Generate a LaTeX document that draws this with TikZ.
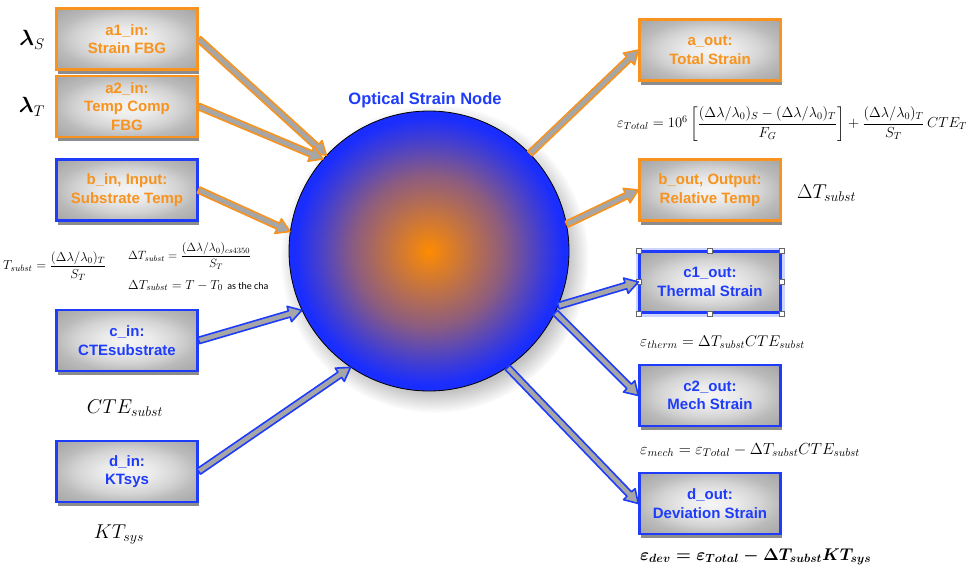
\RequirePackage{fix-cm}
\documentclass[tikz,border=0pt]{standalone}
\usepackage{amsmath}
\usepackage{fontspec}
\newfontfamily\boxfont{Liberation Sans}
\newfontfamily\calfont{Carlito}
\usetikzlibrary{calc,shadows}

\definecolor{myorange}{RGB}{247,147,30}
\definecolor{myblue}{RGB}{30,60,250}
\definecolor{ballorange}{RGB}{255,140,0}
\definecolor{ballblue}{RGB}{25,45,255}
\colorlet{ballmidA}{ballorange!88!ballblue}
\colorlet{ballmidB}{ballorange!50!ballblue}
\colorlet{ballmidC}{ballorange!18!ballblue}

\pgfdeclareradialshading{boxshade}{\pgfpoint{0bp}{0bp}}{color(0bp)=(black!4); color(9bp)=(black!8); color(18bp)=(black!17); color(25bp)=(black!27); color(36bp)=(black!36); color(50bp)=(black!36)}
\pgfdeclareradialshading{ballshade}{\pgfpoint{0bp}{0bp}}{color(0bp)=(ballorange); color(3bp)=(ballmidA); color(13.5bp)=(ballmidB); color(20bp)=(ballmidC); color(24bp)=(ballblue); color(50bp)=(ballblue)}

\newcommand{\hollowarrow}[4]{%
  \coordinate (#4-h) at ($(#3)!13pt!(#2)$);
  \draw[#1] ($(#2)!3.2pt!90:(#3)$) -- ($(#4-h)!3.2pt!90:(#3)$) -- ($(#4-h)!8pt!90:(#3)$) -- (#3)
    -- ($(#4-h)!8pt!-90:(#3)$) -- ($(#4-h)!3.2pt!-90:(#3)$) -- ($(#2)!3.2pt!-90:(#3)$) -- cycle;}

\tikzset{
  iobox/.style={rectangle, minimum width=141pt, minimum height=61pt, inner sep=1pt,
    line width=2.4pt, shading=boxshade, align=center,
    font=\boxfont\bfseries\fontsize{15}{18.5}\selectfont,
    drop shadow={shadow xshift=1.5pt, shadow yshift=-4pt, opacity=0.45, fill=black}},
  obox/.style={iobox, draw=myorange, text=myorange},
  bbox/.style={iobox, draw=myblue, text=myblue},
  mixbox/.style={iobox, draw=myblue, text=myorange},
  ball/.style={circle, minimum size=280pt, inner sep=0pt, draw=black, line width=0.8pt,
    shading=ballshade,
    circular drop shadow={shadow xshift=5pt, shadow yshift=-7pt, shadow scale=1.1, opacity=0.5}},
  ttl/.style={font=\boxfont\bfseries\fontsize{16.5}{19}\selectfont, text=myblue},
  eq/.style={inner sep=0pt},
  oarrow/.style={draw=myorange, fill=black!35, line width=1.6pt, line join=round},
  barrow/.style={draw=myblue, fill=black!35, line width=1.6pt, line join=round},
  handle/.style={rectangle, draw=black!60, fill=white, line width=0.6pt, minimum size=5pt, inner sep=0pt}
}

\begin{document}
\begin{tikzpicture}[x=1pt,y=-1pt]
\useasboundingbox (0,0) rectangle (966,571);
\fill[white] (0,0) rectangle (966,571);

% central node
\node[ball] (core) at (429,251) {};
\node[ttl] (title) at (425,100) {Optical Strain Node};

% input boxes
\node[obox] (a1) at (127,39) {a1\_in:\\Strain FBG};
\node[obox] (a2) at (127,106.5) {a2\_in:\\Temp Comp\\FBG};
\node[mixbox] (bin) at (127,190) {b\_in, Input:\\Substrate Temp};
\node[bbox] (cin) at (127,340.5) {c\_in:\\CTEsubstrate};
\node[bbox] (din) at (127,471.5) {d\_in:\\KTsys};

% output boxes
\node[obox] (aout) at (710,50) {a\_out:\\Total Strain};
\node[obox] (bout) at (710,190) {b\_out, Output:\\Relative Temp};
\node[bbox, preaction={draw=myblue!22, line width=8pt}] (c1) at (710,282) {c1\_out:\\Thermal Strain};
\node[bbox] (c2) at (710,395.5) {c2\_out:\\Mech Strain};
\node[bbox] (dout) at (710,503.5) {d\_out:\\Deviation Strain};

% selection handles on c1_out
\foreach \a [count=\i] in {north west,north,north east,east,south east,south,south west,west}
  \node[handle] (hd\i) at (c1.\a) {};

% connectors
\hollowarrow{oarrow}{a1.east}{core.137}{x1}
\hollowarrow{oarrow}{a2.east}{core.139}{x2}
\hollowarrow{oarrow}{bin.east}{core.172}{x3}
\hollowarrow{barrow}{cin.east}{core.205}{x4}
\hollowarrow{barrow}{din.east}{core.236}{x5}
\hollowarrow{oarrow}{core.44}{aout.west}{x6}
\hollowarrow{oarrow}{core.11}{bout.west}{x7}
\hollowarrow{barrow}{core.-23}{c1.west}{x8}
\hollowarrow{barrow}{core.-26}{c2.west}{x9}
\hollowarrow{barrow}{core.-56}{dout.west}{x10}

% formulas left
\node[eq, font=\fontsize{22}{25}\selectfont] (eqLS) at (32,40) {$\boldsymbol{\lambda}_{S}$};
\node[eq, font=\fontsize{22}{25}\selectfont] (eqLT) at (32,107) {$\boldsymbol{\lambda}_{T}$};
\node[eq, anchor=west, font=\fontsize{13}{15}\selectfont] (eqTs) at (3,266)
  {$T_{subst} = \dfrac{(\Delta\lambda/\lambda_0)_T}{S_T}$};
\node[eq, anchor=west, font=\fontsize{12}{14}\selectfont] (eqDT1) at (128,256)
  {$\Delta T_{subst} = \dfrac{(\Delta\lambda/\lambda_0)_{cs4350}}{S_T}$};
\node[eq, anchor=base west, font=\fontsize{13}{15}\selectfont] (eqDT2) at (128,289)
  {$\Delta T_{subst} = T - T_0$\ {\calfont\fontsize{10}{11}\selectfont as the cha}};
\node[eq, font=\fontsize{20}{23}\selectfont] (eqCTE) at (125,408) {$CTE_{subst}$};
\node[eq, font=\fontsize{20}{23}\selectfont] (eqKT) at (119,535) {$KT_{sys}$};

% formulas right
\node[eq, anchor=west, font=\fontsize{14.5}{16}\selectfont] (eqTot) at (617,124)
  {$\varepsilon_{Total} = 10^6\left[\dfrac{(\Delta\lambda/\lambda_0)_S - (\Delta\lambda/\lambda_0)_T}{F_G}\right] + \dfrac{(\Delta\lambda/\lambda_0)_T}{S_T}\,CTE_T$};
\node[eq, anchor=west, font=\fontsize{20}{23}\selectfont] (eqDTo) at (797,193) {$\Delta T_{subst}$};
\node[eq, anchor=west, font=\fontsize{15.5}{18}\selectfont] (eqTh) at (640,342)
  {$\varepsilon_{therm} = \Delta T_{subst} CTE_{subst}$};
\node[eq, anchor=west, font=\fontsize{16}{19}\selectfont] (eqMe) at (640,450)
  {$\varepsilon_{mech} = \varepsilon_{Total} - \Delta T_{subst} CTE_{subst}$};
\node[eq, anchor=west, font=\fontsize{17}{20}\selectfont] (eqDev) at (640,557)
  {$\boldsymbol{\varepsilon_{dev} = \varepsilon_{Total} - \Delta T_{subst} KT_{sys}}$};
\end{tikzpicture}
\end{document}
